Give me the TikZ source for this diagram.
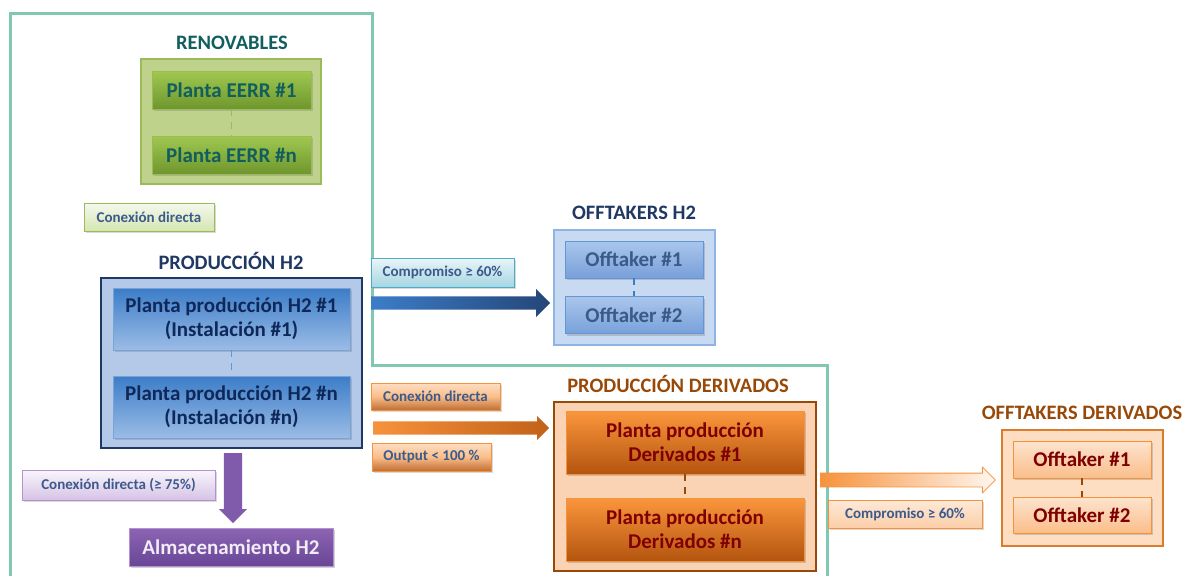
\documentclass[tikz,border=0pt]{standalone}
\usepackage{fontspec}
\setmainfont{Carlito}
\usetikzlibrary{shapes.arrows,shadows}
\definecolor{framegreen}{RGB}{128,200,175}
\definecolor{renovtitle}{RGB}{17,94,94}
\definecolor{renovfill}{RGB}{190,210,140}
\definecolor{renovline}{RGB}{155,187,89}
\definecolor{eerrtop}{RGB}{160,200,80}
\definecolor{eerrbot}{RGB}{110,150,45}
\definecolor{tagtext}{RGB}{60,90,140}
\definecolor{hnavy}{RGB}{31,56,100}
\definecolor{hfill}{RGB}{180,200,232}
\definecolor{htop}{RGB}{60,125,200}
\definecolor{hbot}{RGB}{155,188,230}
\definecolor{htext}{RGB}{15,40,90}
\definecolor{purpletop}{RGB}{140,100,180}
\definecolor{purplebot}{RGB}{105,70,150}
\definecolor{purpleline}{RGB}{180,145,210}
\definecolor{cyanline}{RGB}{75,172,198}
\definecolor{offfill}{RGB}{200,218,242}
\definecolor{offline}{RGB}{142,180,227}
\definecolor{offtop}{RGB}{170,198,236}
\definecolor{offbot}{RGB}{120,160,218}
\definecolor{offtext}{RGB}{60,90,135}
\definecolor{orange}{RGB}{247,146,60}
\definecolor{brown}{RGB}{152,72,7}
\definecolor{derfill}{RGB}{250,210,180}
\definecolor{dertop}{RGB}{250,150,60}
\definecolor{derbot}{RGB}{180,85,15}
\definecolor{dertext}{RGB}{127,0,0}
\definecolor{peach}{RGB}{253,222,195}
\begin{document}
\begin{tikzpicture}[x=1pt,y=-1pt,
    sz/.style 2 args={minimum width=#1pt, minimum height=#2pt},
    title/.style={font=\bfseries\fontsize{20.5}{24}\selectfont},
    group/.style={draw, line width=2.5pt, inner sep=0pt},
    plant/.style={draw, line width=0.6pt, inner sep=0pt, align=center,
        font=\bfseries\fontsize{21}{24}\selectfont,
        drop shadow={opacity=0.35, shadow xshift=1.5pt, shadow yshift=-2pt}},
    tag/.style={draw, line width=0.8pt, inner sep=0pt, text=tagtext,
        font=\bfseries\fontsize{15}{18}\selectfont,
        drop shadow={opacity=0.3, shadow xshift=1.5pt, shadow yshift=-2pt}},
    link/.style={line width=1.5pt, dash pattern=on 7pt off 6pt},
    fatarrow/.style={single arrow, single arrow head extend=#1pt,
        single arrow head indent=0pt, inner xsep=0pt, inner ysep=6.5pt}]
    \useasboundingbox (0,0) rectangle (1197,576);
    % frame round renovables + produccion H2 + offtakers H2
    \draw[framegreen, line width=3pt] (10,576) -- (10,13) -- (372,13) -- (372,365) -- (827,365) -- (827,576);

    % renovables
    \node[title, text=renovtitle] (renovT) at (232,43) {RENOVABLES};
    \node[group, draw=renovline, fill=renovfill, sz={180}{125}] (renov) at (231,121.5) {};
    \node[plant, draw=renovline, top color=eerrtop, bottom color=eerrbot, text=renovtitle, sz={159}{38}] (eerr1) at (231.5,90) {Planta EERR \#1};
    \node[plant, draw=renovline, top color=eerrtop, bottom color=eerrbot, text=renovtitle, sz={159}{38}] (eerrn) at (231.5,155) {Planta EERR \#n};
    \draw[renovline, link] (eerr1) -- (eerrn);
    \node[tag, draw=renovline, top color=white!90!renovline, bottom color=white!55!eerrtop, sz={130}{28}] (tagRenov) at (149,217) {Conexión directa};

    % produccion H2
    \node[title, text=hnavy] (h2T) at (231,261) {PRODUCCIÓN H2};
    \node[group, draw=hnavy, fill=hfill, sz={261}{170}] (h2) at (231.5,363) {};
    \node[plant, draw=htop!70, top color=htop, bottom color=hbot, text=htext, sz={237}{62}] (h21) at (231.5,319) {Planta producción H2 \#1\\(Instalación \#1)};
    \node[plant, draw=htop!70, top color=htop, bottom color=hbot, text=htext, sz={237}{62}] (h2n) at (231.5,407) {Planta producción H2 \#n\\(Instalación \#n)};
    \draw[htop!80, link] (h21) -- (h2n);

    % almacenamiento
    \node[fatarrow=5, inner ysep=9pt, rotate=-90, anchor=tail, fill=purpletop!70!purplebot, minimum height=70pt] (arrStore) at (233,453) {};
    \node[tag, draw=purpleline, top color=white!92!purpleline, bottom color=white!45!purpleline, sz={193}{30}] (tagStore) at (118.5,485) {Conexión directa (≥ 75\%)};
    \node[plant, draw=purpleline, top color=purpletop, bottom color=purplebot, text=white!88!purpletop, sz={204}{38}] (store) at (231,547) {Almacenamiento H2};

    % offtakers H2
    \node[tag, draw=cyanline, top color=white!88!cyanline, bottom color=white!50!cyanline, sz={143}{29}] (tagOffH2) at (442.5,272.5) {Compromiso ≥ 60\%};
    \node[fatarrow=7.5, anchor=tail, left color=htop, right color=hnavy!80!htop, minimum height=179pt] (arrOffH2) at (371,303) {};
    \node[title, text=hnavy] (offH2T) at (634,213) {OFFTAKERS H2};
    \node[group, draw=offline, fill=offfill, sz={161}{115}] (offH2) at (634.5,287.5) {};
    \node[plant, draw=htop!80, top color=offtop, bottom color=offbot, text=offtext, sz={138}{37}] (offH21) at (634,259.5) {Offtaker \#1};
    \node[plant, draw=htop!80, top color=offtop, bottom color=offbot, text=offtext, sz={138}{37}] (offH22) at (634,315) {Offtaker \#2};
    \draw[htop, link] (offH21) -- (offH22);

    % produccion derivados
    \node[tag, draw=orange, top color=peach, bottom color=derbot!85, middle color=white!40!orange, sz={129}{27}] (tagDer) at (435.5,396.5) {Conexión directa};
    \node[fatarrow=5.5, anchor=tail, left color=orange, right color=derbot!80!orange, minimum height=176pt] (arrDer) at (373,428) {};
    \node[tag, draw=orange, top color=peach, bottom color=derbot!85, middle color=white!40!orange, sz={119}{28}] (tagOut) at (431.5,457) {Output < 100 \%};
    \node[title, text=brown] (derT) at (678,384) {PRODUCCIÓN DERIVADOS};
    \node[group, draw=brown, fill=derfill, sz={262}{169}] (der) at (685,486.5) {};
    \node[plant, draw=orange, top color=dertop, bottom color=derbot, text=dertext, sz={238}{63}] (der1) at (685,442.5) {Planta producción\\Derivados \#1};
    \node[plant, draw=orange, top color=dertop, bottom color=derbot, text=dertext, sz={238}{63}] (dern) at (685,529.5) {Planta producción\\Derivados \#n};
    \draw[brown, link] (der1) -- (dern);

    % offtakers derivados
    \node[fatarrow=6, anchor=tail, draw=orange, line width=0.8pt, left color=orange, right color=white!92!orange, minimum height=175pt] (arrOffDer) at (820,480) {};
    \node[tag, draw=orange, top color=white!80!orange, bottom color=white!55!orange, sz={154}{28}] (tagOffDer) at (905,514) {Compromiso ≥ 60\%};
    \node[title, text=brown] (offDerT) at (1082,413) {OFFTAKERS DERIVADOS};
    \node[group, draw=orange!70!brown, fill=peach, sz={161}{116}] (offDer) at (1082.5,488) {};
    \node[plant, draw=orange, top color=white!75!orange, bottom color=white!40!orange, text=dertext, sz={138}{37}] (offDer1) at (1082,459.5) {Offtaker \#1};
    \node[plant, draw=orange, top color=white!75!orange, bottom color=white!40!orange, text=dertext, sz={138}{36}] (offDer2) at (1082,515) {Offtaker \#2};
    \draw[brown, link] (offDer1) -- (offDer2);
\end{tikzpicture}
\end{document}
